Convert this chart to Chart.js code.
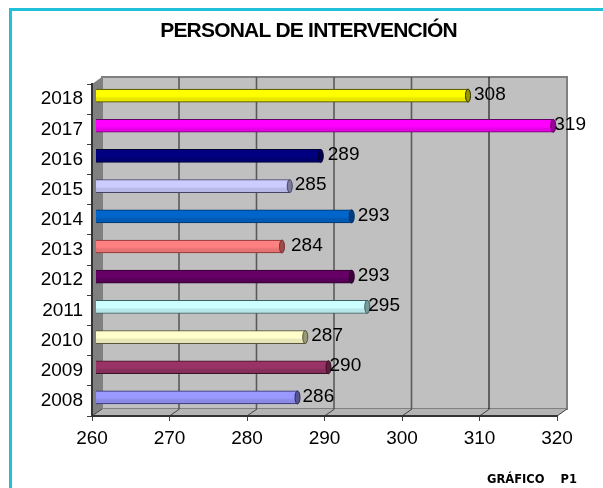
<!DOCTYPE html>
<html>
<head>
<meta charset="utf-8">
<title>Personal de intervención</title>
<script src="https://cdn.jsdelivr.net/npm/chart.js@4"></script>
<style>
html, body { margin: 0; padding: 0; background: #fff; }
canvas { display: block; }
</style>
</head>
<body>
<canvas id="personal" width="603" height="488"></canvas>
<script>
var years = ['2008', '2009', '2010', '2011', '2012', '2013', '2014', '2015', '2016', '2017', '2018'];
var personal = [286, 290, 287, 295, 293, 284, 293, 285, 289, 319, 308];
var xTicks = [260, 270, 280, 290, 300, 310, 320];

var barColors = ['#9999ff', '#993366', '#ffffcc', '#ccffff', '#660066', '#ff8080', '#0066cc', '#ccccff', '#000080', '#ff00ff', '#ffff00'];
var shadeColors = ['#8a8ae6', '#85305a', '#e6e6b8', '#b8e6e6', '#570057', '#e67373', '#0059b3', '#b8b8e6', '#000070', '#e600e6', '#e6e600'];
var edgeColors = ['#2a2a66', '#3a1028', '#55553a', '#3f5f5f', '#2a002a', '#803030', '#003366', '#44446a', '#000030', '#660066', '#333300'];
var capColors = ['#55558f', '#5c1f3d', '#99997a', '#7a9999', '#3d003d', '#994d4d', '#003d7a', '#7a7a99', '#00004d', '#990099', '#999900'];
// the reference leaves a slightly different gap after each bar
var labelGaps = [2, -2, 3, -2, 3, 6, 3, 2, 4, -2, 3];

var DEPTH_X = 10, DEPTH_Y = 7;
var BAR_DX = 4, BAR_DY = 3.5;
var FONT = '"Liberation Sans", Arial, sans-serif';

var fakeThreeD = {
    id: 'fakeThreeD',
    beforeDraw: function(chart) {
        var c = chart.ctx, a = chart.chartArea, x = chart.scales.x;
        c.save();
        c.fillStyle = '#fff';
        c.fillRect(0, 0, chart.width, chart.height);

        // teal frame, only top and left are in the picture
        c.fillStyle = '#1fc0d8';
        c.fillRect(9, 8, chart.width - 9, 3);
        c.fillRect(9, 8, 3, chart.height - 8);

        // back wall
        c.fillStyle = '#c0c0c0';
        c.strokeStyle = '#808080';
        c.lineWidth = 2;
        c.fillRect(a.left + DEPTH_X, a.top - DEPTH_Y, a.width, a.height);
        c.strokeRect(a.left + DEPTH_X, a.top - DEPTH_Y, a.width, a.height);

        // left wall
        c.fillStyle = '#808080';
        c.beginPath();
        c.moveTo(a.left, a.top);
        c.lineTo(a.left + DEPTH_X, a.top - DEPTH_Y);
        c.lineTo(a.left + DEPTH_X, a.bottom - DEPTH_Y);
        c.lineTo(a.left, a.bottom);
        c.closePath();
        c.fill();

        // floor
        c.fillStyle = '#b4b4b4';
        c.beginPath();
        c.moveTo(a.left, a.bottom);
        c.lineTo(a.left + DEPTH_X, a.bottom - DEPTH_Y);
        c.lineTo(a.right + DEPTH_X, a.bottom - DEPTH_Y);
        c.lineTo(a.right, a.bottom);
        c.closePath();
        c.fill();

        // grid lines on the back wall and their run across the floor
        xTicks.forEach(function(v) {
            var px = x.getPixelForValue(v);
            if (v > 260 && v < 320) {
                c.strokeStyle = v === 310 ? '#000' : '#5a5a5a';
                c.lineWidth = v === 310 ? 1 : 1.6;
                c.beginPath();
                c.moveTo(px + DEPTH_X - 0.5, a.top - DEPTH_Y);
                c.lineTo(px + DEPTH_X - 0.5, a.bottom - DEPTH_Y);
                c.stroke();
            }
            c.strokeStyle = '#404040';
            c.lineWidth = 1;
            c.beginPath();
            c.moveTo(px, a.bottom);
            c.lineTo(px + DEPTH_X, a.bottom - DEPTH_Y);
            c.stroke();
        });
        c.restore();
    },
    beforeDatasetsDraw: function(chart) {
        chart.ctx.save();
        chart.ctx.translate(BAR_DX, -BAR_DY);
    },
    afterDatasetsDraw: function(chart) {
        var c = chart.ctx;
        var bars = chart.getDatasetMeta(0).data;
        bars.forEach(function(bar, i) {
            // end cap
            c.fillStyle = capColors[i];
            c.strokeStyle = edgeColors[i];
            c.lineWidth = 1;
            c.beginPath();
            c.ellipse(bar.x, bar.y, 2.5, bar.height / 2, 0, 0, Math.PI * 2);
            c.fill();
            c.stroke();
        });

        c.fillStyle = '#000';
        c.font = '19px ' + FONT;
        c.textAlign = 'left';
        c.textBaseline = 'middle';
        bars.forEach(function(bar, i) {
            c.fillText(personal[i], bar.x + 3 + labelGaps[i], bar.y - 1);
        });
        c.restore();

        // title and the small caption at the bottom
        c.save();
        c.fillStyle = '#000';
        c.textBaseline = 'middle';
        c.textAlign = 'center';
        c.font = 'bold 21px ' + FONT;
        c.letterSpacing = '-0.8px';
        c.fillText('PERSONAL DE INTERVENCIÓN', 308.5, 31);
        c.letterSpacing = '0px';
        c.textAlign = 'right';
        c.font = 'bold 11.5px "DejaVu Sans", sans-serif';
        c.fillText('GRÁFICO    P1', 577, 480);
        c.restore();
    }
};

// bright upper part, slightly darker lower part, so the bars read as tubes
function tubeFill(ctx) {
    var chart = ctx.chart;
    var i = ctx.dataIndex;
    var mid = chart.scales.y ? chart.scales.y.getPixelForValue(i) : NaN;
    if (!isFinite(mid)) return barColors[i] || barColors[0];
    var g = chart.ctx.createLinearGradient(0, mid - 6.5, 0, mid + 6.5);
    g.addColorStop(0, barColors[i]);
    g.addColorStop(0.55, barColors[i]);
    g.addColorStop(0.7, shadeColors[i]);
    g.addColorStop(1, shadeColors[i]);
    return g;
}

new Chart(document.getElementById('personal'), {
    type: 'bar',
    data: {
        labels: years,
        datasets: [{
            data: personal,
            backgroundColor: tubeFill,
            borderColor: edgeColors,
            borderWidth: 1,
            borderSkipped: false,
            barThickness: 13
        }]
    },
    options: {
        indexAxis: 'y',
        responsive: false,
        animation: false,
        layout: { padding: { top: 84, right: 46, bottom: 18, left: 0 } },
        plugins: {
            legend: { display: false },
            title: { display: false },
            tooltip: { enabled: false }
        },
        scales: {
            x: {
                min: 260,
                max: 320,
                afterBuildTicks: function(axis) {
                    axis.ticks = xTicks.map(function(v) { return { value: v }; });
                },
                afterFit: function(axis) { axis.height = 54; },
                grid: { drawOnChartArea: false, drawTicks: true, tickLength: 5, color: '#404040' },
                border: { color: '#333', width: 2 },
                ticks: {
                    color: '#000',
                    padding: 6,
                    maxRotation: 0,
                    font: { family: FONT, size: 19 }
                }
            },
            y: {
                reverse: true,
                afterFit: function(axis) { axis.width = 92; },
                grid: { drawOnChartArea: false, drawTicks: true, tickLength: 5, color: '#404040' },
                border: { color: '#333', width: 2 },
                ticks: {
                    color: '#000',
                    padding: 4,
                    font: { family: FONT, size: 19 }
                }
            }
        }
    },
    plugins: [fakeThreeD]
});
</script>
</body>
</html>
